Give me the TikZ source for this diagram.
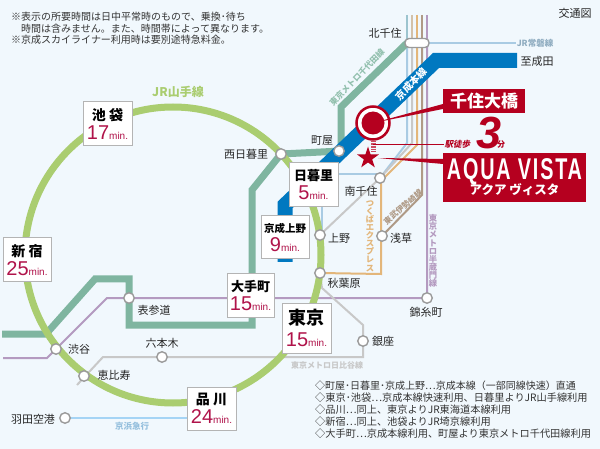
\documentclass[tikz,border=0pt]{standalone}
\usepackage{fontspec}
\setmainfont{Noto Sans CJK JP}
\newfontfamily\latinf{Liberation Sans}
\newfontfamily\condf[FakeStretch=0.66,LetterSpace=6]{Liberation Sans}
\usetikzlibrary{shapes.geometric}
\definecolor{bgc}{HTML}{F1F8FD}
\definecolor{ring}{HTML}{AACD70}
\definecolor{chiyoda}{HTML}{7FB5A0}
\definecolor{keisei}{HTML}{0078C0}
\definecolor{joban}{HTML}{A9CBE3}
\definecolor{hibiya}{HTML}{C8C8C8}
\definecolor{tx}{HTML}{E3B67A}
\definecolor{tobu}{HTML}{AF9A86}
\definecolor{hanzo}{HTML}{B49AC0}
\definecolor{keikyu}{HTML}{A5D4F5}
\definecolor{redc}{HTML}{B5001F}
\definecolor{mins}{HTML}{B0134A}
\definecolor{boxb}{HTML}{B4B4B4}
\definecolor{nodeb}{HTML}{9A9A9A}
\tikzset{
 railline/.style={line width=#1,line join=miter},
 stn/.style={circle,draw=nodeb,line width=1.4pt,fill=white,minimum size=10.5pt,inner sep=0pt},
 pill/.style={draw=nodeb,line width=1.4pt,fill=white,rounded corners=4pt,minimum width=24pt,minimum height=9pt,inner sep=0pt},
 stlabel/.style={font=\fontsize{11}{11}\selectfont,text=black!85,inner sep=0pt},
 timebox/.style={draw=boxb,line width=1pt,fill=white,inner sep=0pt,align=center},
 notetext/.style={font=\fontsize{#1}{10}\selectfont,text=black!80,inner sep=0pt,anchor=west},
 linelabel/.style={inner sep=0pt,font=\fontsize{#1}{#1}\selectfont\bfseries},
 vlabel/.style={inner sep=0pt,align=center,font=\fontsize{8.3}{8.1}\selectfont\bfseries},
}
\newcommand{\tbox}[6]{\node[timebox,minimum width=#3pt,minimum height=#4pt] (#1) at (#2) {\fontsize{#6}{16}\selectfont\bfseries #5};}
\newcommand{\mintext}[1]{{\latinf\mdseries\fontsize{20}{20}\selectfont\textcolor{mins}{#1}\fontsize{10}{10}\selectfont\textcolor{mins}{min.}}}
\begin{document}
\begin{tikzpicture}[x=1pt,y=-1pt]
\useasboundingbox (0,0) rectangle (600,449);
\fill[bgc] (0,0) rectangle (600,449);
% station anchors
\coordinate (naritaE) at (517,60.5);
\coordinate (jobanE) at (516,43);
\coordinate (chiyE) at (2,334);
\coordinate (hanzE) at (3,358);
\coordinate (hibE) at (77,385);
\coordinate (keikE) at (190,418);
% upper ends of the lines above Kitasenju
\draw[railline=2pt,color=joban!70!chiyoda] (407,15) -- (407,40);
\draw[railline=2pt,color=hibiya!60!tx] (412,15) -- (412,40);
\draw[railline=2pt,color=tx] (417,15) -- (417,40);
\draw[railline=2pt,color=tobu] (422,15) -- (422,40);
\draw[railline=2pt,color=hanzo] (427,15) -- (427,40);
\coordinate (minamisenjuC) at (380,178);
\coordinate (uenoC) at (320,235);
\coordinate (asakusaC) at (382,236);
\coordinate (akibaC) at (320,273);
\coordinate (kinshiC) at (427,298);
\coordinate (omoteC) at (129,298);
\coordinate (hanedaC) at (65,418);
\coordinate (nishiC) at (281,154);
\coordinate (kitaE) at (429,43);
% lines
\draw[railline=2pt,color=joban] (kitaE) -- (jobanE);
\draw[railline=2pt,color=joban] (407,47) -- (407,143) -- (minamisenjuC);
\draw[railline=2pt,color=joban] (minamisenjuC) -- (380,174.5) -- (322,174.5) -- (322,235);
\draw[railline=2pt,color=hibiya] (412,47) -- (412,143) -- (minamisenjuC) -- (uenoC);
\draw[railline=2pt,color=tx] (417,47) -- (417,145) -- (381,181) -- (381,274) -- (akibaC);
\draw[railline=2pt,color=tobu] (422,47) -- (422,195) -- (asakusaC);
\draw[railline=2pt,color=hanzo] (427,47) -- (kinshiC) -- (omoteC) -- (107,298) -- (47,358) -- (hanzE);
\draw[railline=2pt,color=hibiya] (akibaC) -- (322,288) -- (363,325) -- (363,357) -- (103,357) -- (hibE);
\draw[railline=2pt,color=keikyu] (hanedaC) -- (keikE);
% chiyoda
\draw[railline=7pt,color=chiyoda] (407,43) -- (341,107) -- (341,151) -- (nishiC) -- (252,190) -- (252,325) -- (129,325) -- (129,279) -- (95,279) -- (46,334) -- (chiyE);
% ring
\draw[color=ring,line width=7pt] (173,255) circle (148);
% keisei
\draw[railline=15pt,color=keisei] (naritaE) -- (436,60.5) -- (285,205) -- (285,262);
% stations
\node[stn] (machiya) at (339,151) {};
\node[stn] (nishi) at (nishiC) {};
\node[stn] (omote) at (omoteC) {};
\node[stn] (shibuya) at (56,349) {};
\node[stn] (ebisu) at (84,376) {};
\node[stn] (ueno) at (uenoC) {};
\node[stn] (akiba) at (akibaC) {};
\node[stn] (roppongi) at (162,357) {};
\node[stn] (minamisenju) at (minamisenjuC) {};
\node[stn] (asakusa) at (asakusaC) {};
\node[stn] (kinshi) at (kinshiC) {};
\node[stn] (ginza) at (363,341) {};
\node[stn] (haneda) at (hanedaC) {};
\node[pill] (kitasenju) at (417,43) {};
% time boxes
\tbox{ikebukuro}{107.5,124}{49}{44}{池 袋\\[3pt]\mintext{17}}{14}
\tbox{shinjuku}{27,260}{48}{44}{新 宿\\[3pt]\mintext{25}}{14}
\tbox{shinagawa}{211.5,408.5}{49}{43}{品 川\\[3pt]\mintext{24}}{14}
\tbox{otemachi}{250.5,295.5}{47}{43}{大手町\\[3pt]\mintext{15}}{13}
\tbox{tokyo}{306.5,328}{49}{50}{東京\\[6pt]\mintext{15}}{18}
\tbox{keiseiueno}{285,237.5}{48}{43}{京成上野\\[3pt]\mintext{9}}{10.5}
\tbox{nippori}{313.5,185}{49}{44}{日暮里\\[3pt]\mintext{5}}{13}
% labels
\node[stlabel] (lkita) at (385,33) {北千住};
\node[stlabel] (lnarita) at (537,61) {至成田};
\node[stlabel] (lmachi) at (322,141) {町屋};
\node[stlabel] (lnishi) at (246,154) {西日暮里};
\node[stlabel] (lminami) at (361,191) {南千住};
\node[stlabel] (lueno) at (339,238) {上野};
\node[stlabel] (lasaku) at (401,238) {浅草};
\node[stlabel] (lakiba) at (344,283) {秋葉原};
\node[stlabel] (lkinshi) at (426,312) {錦糸町};
\node[stlabel] (lginza) at (383,341) {銀座};
\node[stlabel] (lomote) at (154,310) {表参道};
\node[stlabel] (lroppo) at (162,343) {六本木};
\node[stlabel] (lshibu) at (79,349) {渋谷};
\node[stlabel] (lebisu) at (114,375) {恵比寿};
\node[stlabel] (lhaneda) at (33,419) {羽田空港};
\node[stlabel] (ltitle) at (575,13) {交通図};
% line labels
\node[linelabel=12,text=ring] (lyama) at (178,92) {JR山手線};
\node[linelabel=8.5,text=joban!85!black] (ljoban) at (535,43.5) {JR常磐線};
\node[linelabel=8.5,text=keikyu!90!black] (lkeikyu) at (132,426) {京浜急行};
\node[linelabel=8,text=hibiya] (lhibiya) at (327,365) {東京メトロ日比谷線};
\node[linelabel=8.3,text=chiyoda!85!white,rotate=46] (lchiyoda) at (357,77) {東京メトロ千代田線};
\node[linelabel=10,text=white,rotate=46] (lkeisei) at (411,84) {京成本線};
\node[linelabel=8,text=tobu,rotate=41] (ltobu) at (403,207) {東武伊勢崎線};
\node[vlabel,text=tx] (ltx) at (370,236) {つ\\く\\ば\\エ\\ク\\ス\\プ\\レ\\ス};
\node[vlabel,text=hanzo] (lhanzo) at (433,251) {東\\京\\メ\\ト\\ロ\\半\\蔵\\門\\線};
% notes
\node[notetext=10] (n1) at (11,17) {※表示の所要時間は日中平常時のもので、乗換･待ち};
\node[notetext=10] (n2) at (21,28.5) {時間は含みません。また、時間帯によって異なります。};
\node[notetext=10] (n3) at (11,40) {※京成スカイライナー利用時は要別途特急料金。};
\node[notetext=10] (b1) at (315,386) {◇町屋･日暮里･京成上野…京成本線（一部同線快速）直通};
\node[notetext=10.2] (b2) at (315,398) {◇東京･池袋…京成本線快速利用、日暮里よりJR山手線利用};
\node[notetext=10.2] (b3) at (315,410) {◇品川…同上、東京よりJR東海道本線利用};
\node[notetext=10.2] (b4) at (315,422) {◇新宿…同上、池袋よりJR埼京線利用};
\node[notetext=10.2] (b5) at (315,434) {◇大手町…京成本線利用、町屋より東京メトロ千代田線利用};
% red callouts
\node[fill=redc,text=white,minimum width=82pt,minimum height=24pt,inner sep=0pt,font=\fontsize{17}{17}\selectfont\bfseries] (senju) at (484,101) {千住大橋};
\node[fill=redc,text=white,minimum width=143pt,minimum height=49pt,inner sep=0pt,align=center] (aqua) at (514.5,177.5) {{\condf\bfseries\fontsize{30}{30}\selectfont AQUA VISTA}\\[-3pt]{\fontsize{12.5}{12.5}\selectfont\bfseries アクア ヴィスタ}};
\node[star,star points=5,star point ratio=2.6,fill=redc,minimum size=23pt,inner sep=0pt] (starm) at (368,158) {};
\node[circle,draw=redc,line width=2.5pt,fill=white,minimum size=33pt,inner sep=0pt] (stn) at (373,123) {};
\node[circle,fill=redc,minimum size=23pt,inner sep=0pt] (stnin) at (373,123) {};
\fill[redc] (stn.center) -- (443,104) -- (443,109) -- cycle;
\fill[redc] (378,158) -- (443,159) -- (443,164) -- cycle;
\draw[redc!70,line width=5pt,dash pattern=on 0.8pt off 0.8pt] (373,141) -- (373,152);
\coordinate (walkL) at (373,144);
\coordinate (walkR) at (444,144);
\draw[redc,line width=0.8pt] (walkL) -- (walkR);
\node[inner sep=0pt,text=redc,font=\fontsize{8.5}{8.5}\selectfont\bfseries,xslant=0.2] (walk) at (458,144.5) {駅徒歩};
\node[inner sep=0pt,text=redc,font=\latinf\fontsize{45}{45}\selectfont\bfseries\itshape] (three) at (489,133) {3};
\node[inner sep=0pt,text=redc,font=\fontsize{8}{8}\selectfont\bfseries] (fun) at (501,145) {分};
\end{tikzpicture}
\end{document}
